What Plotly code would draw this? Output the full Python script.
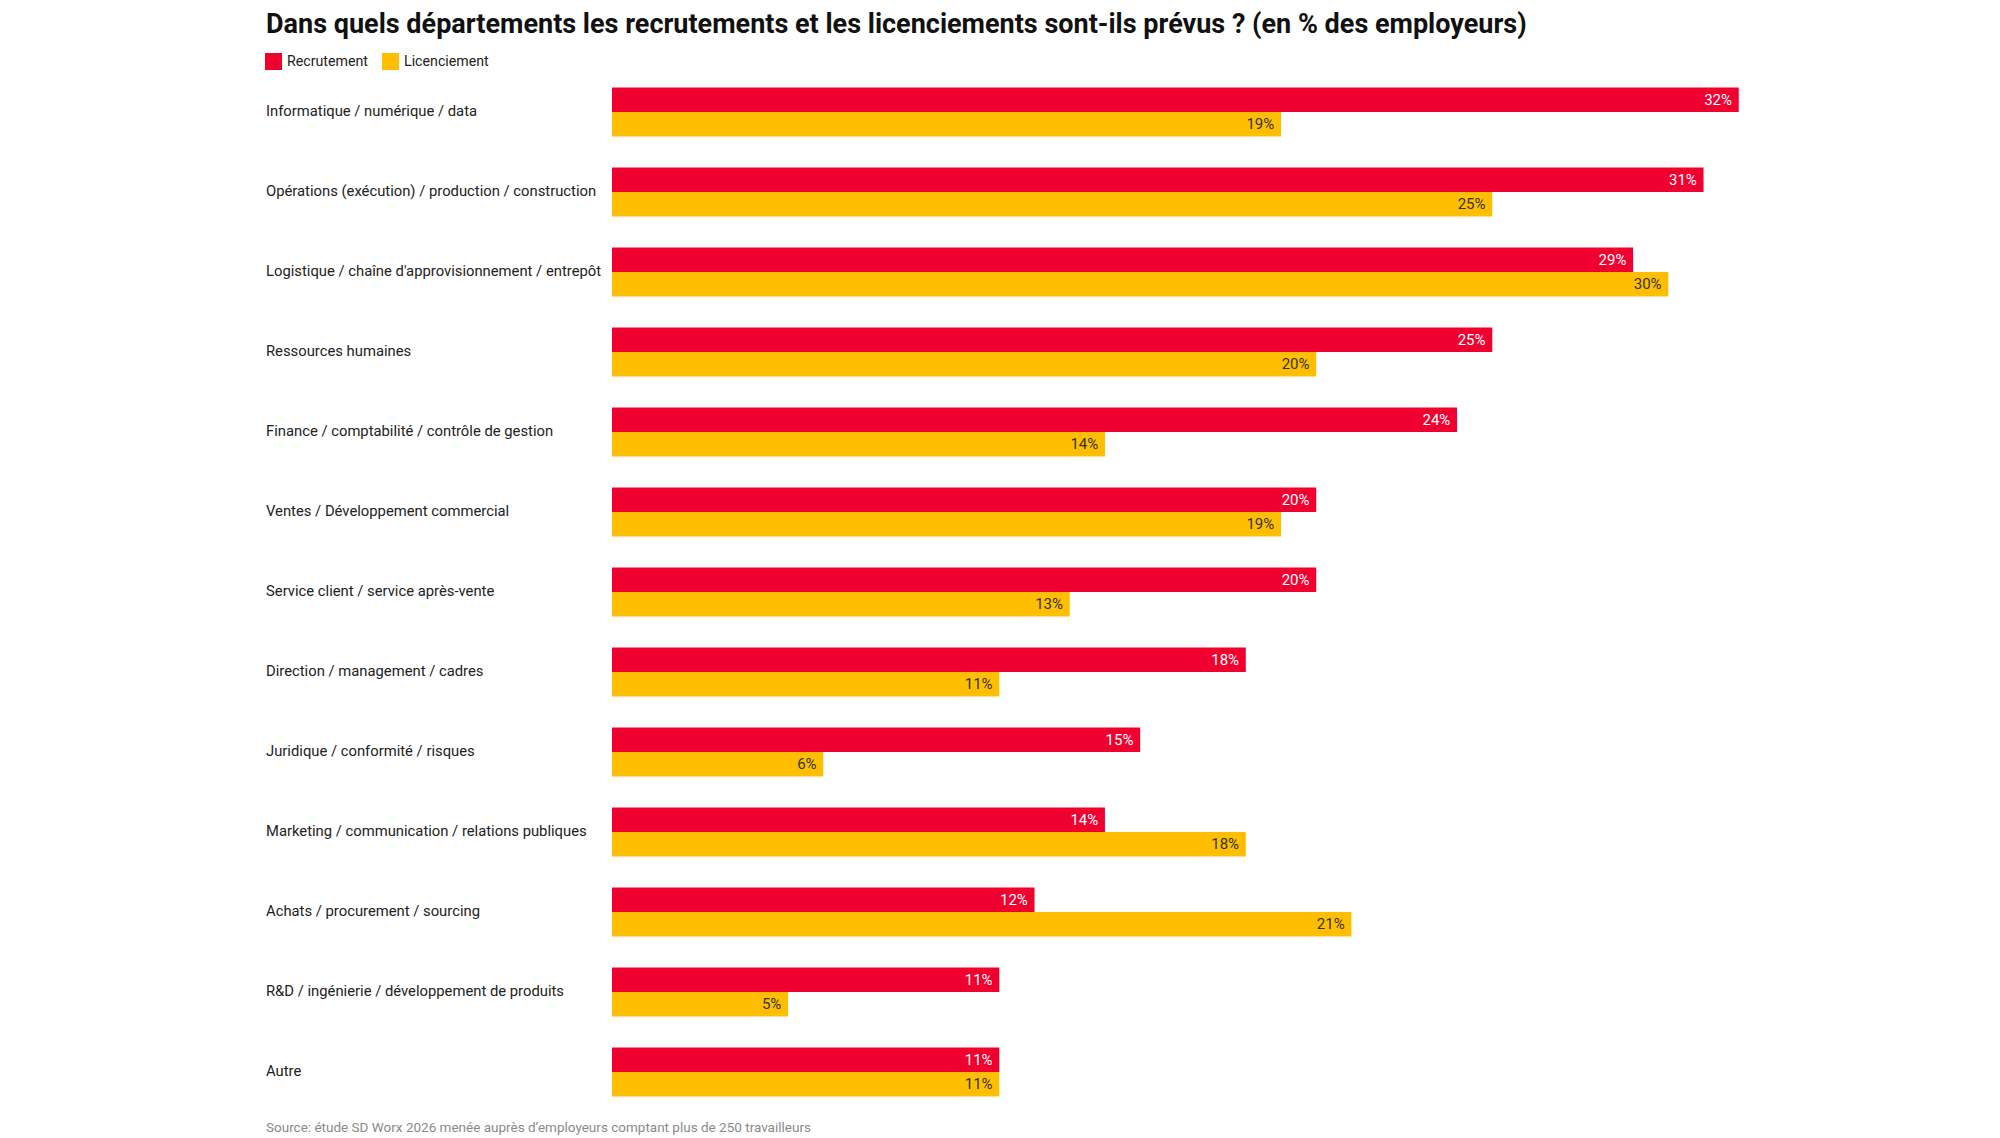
import plotly.graph_objects as go

# data
categories = [
    "Informatique / numérique / data",
    "Opérations (exécution) / production / construction",
    "Logistique / chaîne d'approvisionnement / entrepôt",
    "Ressources humaines",
    "Finance / comptabilité / contrôle de gestion",
    "Ventes / Développement commercial",
    "Service client / service après-vente",
    "Direction / management / cadres",
    "Juridique / conformité / risques",
    "Marketing / communication / relations publiques",
    "Achats / procurement / sourcing",
    "R&D / ingénierie / développement de produits",
    "Autre",
]
recrutement = [32, 31, 29, 25, 24, 20, 20, 18, 15, 14, 12, 11, 11]
licenciement = [19, 25, 30, 20, 14, 19, 13, 11, 6, 18, 21, 5, 11]
series_names = ["Recrutement", "Licenciement"]

title = "Dans quels départements les recrutements et les licenciements sont-ils prévus ? (en % des employeurs)"
source = "Source: étude SD Worx 2026 menée auprès d’employeurs comptant plus de 250 travailleurs"

RED = "#F0002F"
YELLOW = "#FFBE00"
FONT = "Roboto"

# the page body has an 8px margin, so the figure is shifted by it
OFF = 8
W, H = 2000 - 2 * OFF, 1138 - OFF
PW, PH = 1338, 1040
L, T = 612 - OFF, 72 - OFF
R, B = W - L - PW, H - T - PH


def px_x(px):
    # screen x (reference pixels) -> paper coords
    return (px - OFF - L) / PW


def px_y(py):
    # screen y (reference pixels) -> paper coords
    return (T + PH - (py - OFF)) / PH


fig = go.Figure()
for name, values, color, txtcolor in [
    (series_names[0], recrutement, RED, "white"),
    (series_names[1], licenciement, YELLOW, "#333333"),
]:
    fig.add_trace(
        go.Bar(
            y=categories,
            x=values,
            name=name,
            orientation="h",
            marker=dict(color=color, line=dict(width=0)),
            text=[f"{v}%\u00a0" for v in values],
            textposition="inside",
            insidetextanchor="end",
            textangle=0,
            insidetextfont=dict(family=FONT, size=15, color=txtcolor),
            showlegend=False,
        )
    )

# left-aligned category labels
for cat in categories:
    fig.add_annotation(
        x=px_x(263.5), xref="paper", xanchor="left",
        y=cat, yref="y", yanchor="middle", yshift=1,
        text=cat, showarrow=False,
        font=dict(family=FONT, size=14.8, color="#222222"),
    )

# custom legend (square + label)
legend_items = [(series_names[0], RED, 265, 285), (series_names[1], YELLOW, 382, 402)]
for name, color, sx, tx in legend_items:
    fig.add_shape(
        type="rect", xref="paper", yref="paper",
        x0=px_x(sx), x1=px_x(sx + 17), y0=px_y(53), y1=px_y(70),
        fillcolor=color, line=dict(width=0),
    )
    fig.add_annotation(
        x=px_x(tx), xref="paper", xanchor="left",
        y=px_y(61.5), yref="paper", yanchor="middle",
        text=name, showarrow=False,
        font=dict(family=FONT, size=14.2, color="#222222"),
    )

fig.add_annotation(
    x=px_x(263.5), xref="paper", xanchor="left",
    y=px_y(1127), yref="paper", yanchor="middle",
    text=source, showarrow=False,
    font=dict(family=FONT, size=13.5, color="#8a8a8a"),
)

fig.update_layout(
    width=W,
    height=H,
    margin=dict(l=L, r=R, t=T, b=B),
    paper_bgcolor="white",
    plot_bgcolor="white",
    barmode="group",
    bargap=0.39,
    bargroupgap=0,
    title=dict(
        text=title,
        x=(266 - OFF) / W, xref="container", xanchor="left",
        y=1 - (23.5 - OFF) / H, yref="container", yanchor="middle",
        font=dict(family=FONT, size=27, color="#111111", weight=700),
    ),
    xaxis=dict(range=[0, 38], visible=False, fixedrange=True),
    yaxis=dict(autorange="reversed", showticklabels=False, showgrid=False,
               zeroline=False, ticks=""),
    font=dict(family=FONT),
)

fig.write_html("out.html")
